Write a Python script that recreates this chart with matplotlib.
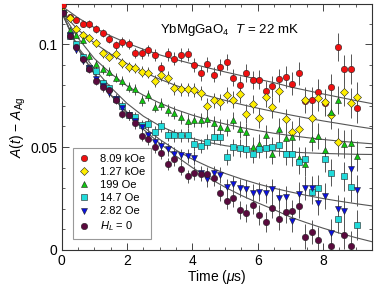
import numpy as np
import matplotlib
matplotlib.use("Agg")
import matplotlib.pyplot as plt
from matplotlib.ticker import MultipleLocator

plt.rcParams['font.family'] = ['Liberation Sans', 'DejaVu Sans']
plt.rcParams['mathtext.fontset'] = 'custom'
plt.rcParams['mathtext.rm'] = 'Liberation Sans'
plt.rcParams['mathtext.it'] = 'Liberation Sans:italic'

# time bins (us)
t = np.round(np.arange(0.05, 9.1, 0.2), 2)

a_809k = [0.1189, 0.1133, 0.1117, 0.1100, 0.1097, 0.1073, 0.1055, 0.1026, 0.0994, 0.1011,
          0.1000, 0.0958, 0.0955, 0.0971, 0.0947, 0.0882, 0.0950, 0.0929, 0.0947, 0.0950,
          0.0898, 0.0858, 0.0903, 0.0851, 0.0887, 0.0914, 0.0837, 0.0801, 0.0861, 0.0827,
          0.0827, 0.0772, 0.0795, 0.0829, 0.0840, 0.0808, 0.0858, 0.0725, 0.0731, 0.0769,
          0.0715, 0.0790, 0.0987, 0.0879, 0.0879, 0.0691]
a_127k = [0.1154, 0.1128, 0.1076, 0.1044, 0.1031, 0.1006, 0.0955, 0.0939, 0.0951, 0.0909,
          0.0890, 0.0885, 0.0866, 0.0861, 0.0822, 0.0848, 0.0838, 0.0785, 0.0780, 0.0780,
          0.0775, 0.0764, 0.0702, 0.0728, 0.0718, 0.0754, 0.0731, 0.0756, 0.0663, 0.0709,
          0.0642, 0.0741, 0.0693, 0.0772, 0.0634, 0.0573, 0.0589, 0.0731, 0.0639, 0.0739,
          0.0720, 0.0655, 0.0526, 0.0769, 0.0715, 0.0744]
a_199 = [0.1152, 0.1071, 0.1044, 0.1019, 0.0942, 0.0903, 0.0877, 0.0866, 0.0838, 0.0820,
         0.0790, 0.0780, 0.0728, 0.0752, 0.0696, 0.0709, 0.0680, 0.0667, 0.0644, 0.0627,
         0.0631, 0.0631, 0.0634, 0.0615, 0.0597, 0.0595, 0.0631, 0.0586, 0.0574, 0.0502,
         0.0516, 0.0557, 0.0468, 0.0589, 0.0544, 0.0549, 0.0445, 0.0417, 0.0540, 0.0553,
         0.0484, 0.0671, 0.0728, 0.0515, 0.0518, 0.0456]
a_147 = [0.1152, 0.1040, 0.1000, 0.0939, 0.0885, 0.0870, 0.0809, 0.0785, 0.0735, 0.0699,
         0.0654, 0.0644, 0.0607, 0.0612, 0.0573, 0.0602, 0.0558, 0.0558, 0.0558, 0.0558,
         0.0515, 0.0505, 0.0526, 0.0550, 0.0548, 0.0452, 0.0499, 0.0497, 0.0493, 0.0467,
         0.0493, 0.0496, 0.0501, 0.0510, 0.0468, 0.0465, 0.0426, 0.0441, 0.0283, 0.0302,
         0.0442, 0.0375, 0.0149, 0.0359, 0.0307, 0.0121]
a_282 = [0.1152, 0.1045, 0.0974, 0.0920, 0.0885, 0.0830, 0.0795, 0.0765, 0.0735, 0.0690,
         0.0655, 0.0625, 0.0597, 0.0557, 0.0524, 0.0505, 0.0489, 0.0468, 0.0460, 0.0456,
         0.0445, 0.0375, 0.0343, 0.0372, 0.0364, 0.0307, 0.0319, 0.0300, 0.0295, 0.0275,
         0.0283, 0.0275, 0.0295, 0.0251, 0.0256, 0.0141, 0.0274, 0.0302, 0.0300, 0.0230,
         0.0262, 0.0084, 0.0200, 0.0187, 0.0392, 0.0290]
a_zf = [0.1152, 0.1040, 0.0987, 0.0930, 0.0879, 0.0822, 0.0790, 0.0777, 0.0731, 0.0663,
        0.0655, 0.0615, 0.0555, 0.0537, 0.0500, 0.0470, 0.0419, 0.0440, 0.0395, 0.0358,
        0.0372, 0.0370, 0.0367, 0.0348, 0.0278, 0.0238, 0.0252, 0.0194, 0.0181, 0.0220,
        0.0170, 0.0135, 0.0203, 0.0149, 0.0184, 0.0187, 0.0212, 0.0065, 0.0088, 0.0048,
        np.nan, 0.0019, np.nan, 0.0075, 0.0021, np.nan]

err = [0.0012, 0.0013, 0.0015, 0.0016, 0.0018, 0.0019, 0.0020, 0.0021, 0.0022, 0.0023,
       0.0024, 0.0025, 0.0026, 0.0027, 0.0028, 0.0029, 0.0030, 0.0031, 0.0032, 0.0033,
       0.0034, 0.0035, 0.0036, 0.0037, 0.0039, 0.0040, 0.0041, 0.0043, 0.0044, 0.0045,
       0.0047, 0.0048, 0.0050, 0.0051, 0.0053, 0.0055, 0.0057, 0.0059, 0.0060, 0.0062,
       0.0064, 0.0066, 0.0068, 0.0070, 0.0072, 0.0074]

# fit curves
t_fit = np.arange(0, 10, 0.5)
fit_809k = [0.1185, 0.1128, 0.1080, 0.1040, 0.1005, 0.0975, 0.0948, 0.0925, 0.0904, 0.0884,
            0.0865, 0.0847, 0.0830, 0.0813, 0.0792, 0.0775, 0.0758, 0.0742, 0.0726, 0.0711]
fit_127k = [0.1155, 0.1070, 0.1005, 0.0952, 0.0905, 0.0865, 0.0830, 0.0799, 0.0772, 0.0748,
            0.0727, 0.0707, 0.0689, 0.0672, 0.0656, 0.0641, 0.0627, 0.0614, 0.0601, 0.0589]
fit_199 = [0.1155, 0.1030, 0.0930, 0.0858, 0.0797, 0.0752, 0.0714, 0.0682, 0.0655, 0.0632,
           0.0612, 0.0595, 0.0580, 0.0567, 0.0556, 0.0546, 0.0537, 0.0529, 0.0522, 0.0516]
fit_147 = [0.1155, 0.0985, 0.0880, 0.0790, 0.0712, 0.0650, 0.0603, 0.0568, 0.0542, 0.0522,
           0.0507, 0.0496, 0.0488, 0.0481, 0.0476, 0.0472, 0.0469, 0.0467, 0.0465, 0.0464]
fit_282 = [0.1155, 0.0975, 0.0855, 0.0755, 0.0670, 0.0598, 0.0537, 0.0485, 0.0441, 0.0404,
           0.0372, 0.0345, 0.0321, 0.0300, 0.0282, 0.0265, 0.0250, 0.0237, 0.0225, 0.0214]
fit_zf = [0.1155, 0.0980, 0.0855, 0.0752, 0.0663, 0.0586, 0.0518, 0.0456, 0.0400, 0.0350,
          0.0305, 0.0265, 0.0229, 0.0196, 0.0160, 0.0132, 0.0106, 0.0082, 0.0060, 0.0040]

labels = ['8.09 kOe', '1.27 kOe', '199 Oe', '14.7 Oe', '2.82 Oe', r'$H_L$ = 0']
series = [a_809k, a_127k, a_199, a_147, a_282, a_zf]
fits = [fit_809k, fit_127k, fit_199, fit_147, fit_282, fit_zf]
colors = ['#f01010', '#ffee00', '#10c810', '#20dada', '#0a10e0', '#5a0a3e']
markers = ['o', 'D', '^', 's', 'v', 'o']
msizes = [4.6, 4.0, 5.0, 4.1, 4.8, 4.6]

fig = plt.figure(figsize=(3.74, 2.88), dpi=100)
ax = fig.add_axes([0.165, 0.132, 0.83, 0.854])

for f in fits:
    ax.plot(t_fit, f, color='#555555', lw=0.8, zorder=1)

for y, lab, c, m, ms in zip(series, labels, colors, markers, msizes):
    ax.errorbar(t, y, yerr=err, fmt='none', ecolor='#555555', elinewidth=0.7, zorder=2)
    ax.plot(t, y, ls='none', marker=m, ms=ms, mfc=c, mec='#222222', mew=0.4,
            label=lab, zorder=3)

ax.set_xlim(0, 9.5)
ax.set_ylim(0, 0.1195)
ax.xaxis.set_major_locator(MultipleLocator(2))
ax.xaxis.set_minor_locator(MultipleLocator(0.5))
ax.yaxis.set_minor_locator(MultipleLocator(0.01))
ax.set_yticks([0, 0.05, 0.1])
ax.set_yticklabels(['0', '0.05', '0.1'])
ax.tick_params(which='both', direction='in', top=True, right=True, labelsize=10,
               color='#444444')
ax.tick_params(which='major', length=5, width=0.7, pad=3)
ax.tick_params(which='minor', length=2.5, width=0.6)
for s in ax.spines.values():
    s.set_linewidth(0.8)
    s.set_color('#333333')

ax.set_xlabel(r'Time ($\mu$s)', fontsize=10, labelpad=0)
ax.set_ylabel(r'$A(t)$ $-$ $A_{\mathrm{Ag}}$', fontsize=10, labelpad=2)

ax.text(0.316, 0.884, r'YbMgGaO$_4$  $T$ = 22 mK', transform=ax.transAxes,
        fontsize=9.5, va='baseline', ha='left')

leg = ax.legend(loc='lower left', bbox_to_anchor=(0.035, 0.045), fontsize=8,
                frameon=True, fancybox=False, edgecolor='#999999', framealpha=1,
                handlelength=1.0, handletextpad=1.0, labelspacing=0.28,
                borderpad=0.5, borderaxespad=0)
leg.get_frame().set_linewidth(0.8)

fig.savefig('out.png', dpi=100)
